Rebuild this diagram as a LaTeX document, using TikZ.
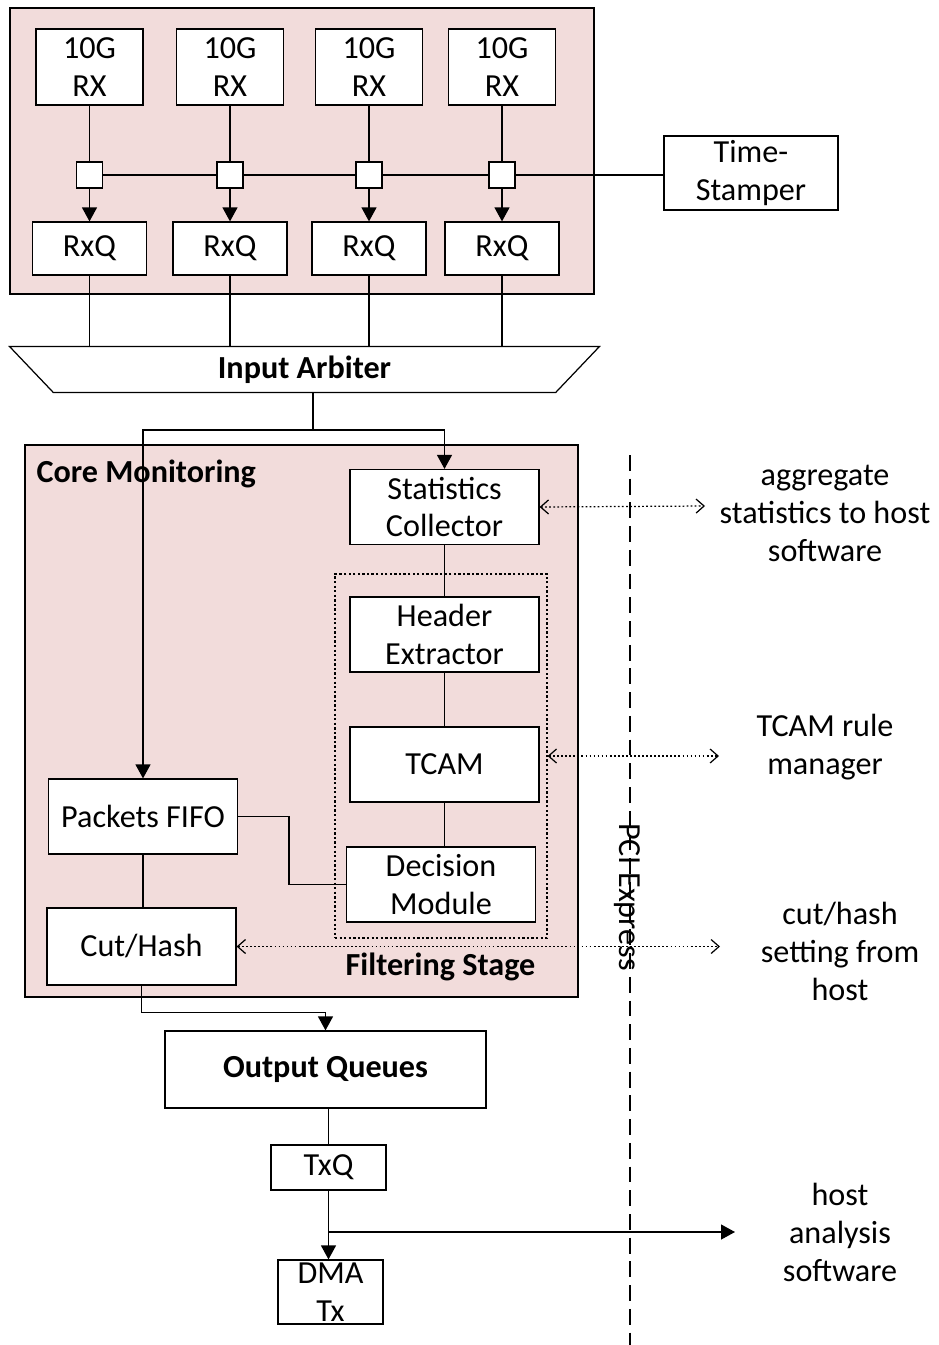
\documentclass[tikz,border=0pt]{standalone}
\usepackage{fontspec}
\setmainfont{Carlito}
\usepackage{tikz}
\usetikzlibrary{positioning,arrows.meta}
\usepackage{xcolor}
\definecolor{corepink}{RGB}{242,220,219}

\begin{document}
\begin{tikzpicture}[
    x=0.02cm,
    y=-0.02cm,
    font=\fontsize{18.3}{21.6}\selectfont,
    line width=0.7pt,
    box/.style={
        rectangle,
        draw,
        fill=white,
        inner sep=0pt,
        align=center
    },
    rxbox/.style={
        box,
        minimum width=2.14cm,
        minimum height=1.52cm
    },
    qbox/.style={
        box,
        minimum width=2.28cm,
        minimum height=1.06cm
    },
    unit/.style={
        box,
        minimum width=3.78cm,
        minimum height=1.5cm
    },
    tap/.style={
        rectangle,
        draw,
        fill=white,
        minimum size=0.52cm,
        inner sep=0pt
    },
    area/.style={
        rectangle,
        draw,
        fill=corepink,
        inner sep=0pt
    },
    note/.style={
        align=center,
        inner sep=0pt
    },
    arrow/.style={
        -{Triangle[length=0.28cm,width=0.3cm]}
    },
    hostlink/.style={
        {Straight Barb[length=0.16cm,width=0.28cm]}-{Straight Barb[length=0.16cm,width=0.28cm]},
        dash pattern=on 1pt off 1.3pt
    }
]

\useasboundingbox (0,0) rectangle (939,1345);

\node[area, minimum width=11.68cm, minimum height=5.72cm] (rxarea) at (302,151) {};
\node[area, minimum width=11.06cm, minimum height=11.04cm] (core) at (301.5,721) {};

\node[rxbox] (rx1) at (89.5,67) {10G\\RX};
\node[rxbox] (rx2) at (230,67) {10G\\RX};
\node[rxbox] (rx3) at (369,67) {10G\\RX};
\node[rxbox] (rx4) at (502,67) {10G\\RX};

\node[tap] (tap1) at (89.5,175) {};
\node[tap] (tap2) at (230,175) {};
\node[tap] (tap3) at (369,175) {};
\node[tap] (tap4) at (502,175) {};

\node[qbox] (rxq1) at (89.5,248.5) {RxQ};
\node[qbox] (rxq2) at (230,248.5) {RxQ};
\node[qbox] (rxq3) at (369,248.5) {RxQ};
\node[qbox] (rxq4) at (502,248.5) {RxQ};

\node[box, minimum width=3.48cm, minimum height=1.48cm] (stamper) at (751,173)
{Time-\\Stamper};

\node[minimum width=11.78cm, minimum height=0.9cm, inner sep=0pt] (arbiter) at (304.5,369.5)
{\textbf{Input Arbiter}};
\draw (arbiter.north west) -- (arbiter.north east)
    -- ([xshift=-0.88cm]arbiter.south east) -- ([xshift=0.88cm]arbiter.south west) -- cycle;

\draw (rx1) -- (tap1);
\draw (rx2) -- (tap2);
\draw (rx3) -- (tap3);
\draw (rx4) -- (tap4);
\draw[arrow] (tap1) -- (rxq1);
\draw[arrow] (tap2) -- (rxq2);
\draw[arrow] (tap3) -- (rxq3);
\draw[arrow] (tap4) -- (rxq4);
\draw (tap1) -- (tap2) -- (tap3) -- (tap4);
\draw (tap4) -- (tap4 -| stamper.west);
\draw (rxq1.south) -- (rxq1.south |- arbiter.north);
\draw (rxq2.south) -- (rxq2.south |- arbiter.north);
\draw (rxq3.south) -- (rxq3.south |- arbiter.north);
\draw (rxq4.south) -- (rxq4.south |- arbiter.north);

\node[anchor=west, inner sep=0pt] (corelabel) at (36,474)
{\textbf{Core Monitoring}};

\node[draw, dash pattern=on 1.3pt off 1.3pt, minimum width=4.24cm, minimum height=7.28cm, inner sep=0pt] (filter) at (441,756) {};
\node[inner sep=0pt] (filterlabel) at (440.5,967)
{\textbf{Filtering Stage}};

\node[unit] (stats) at (444.5,507)
{Statistics\\Collector};
\node[unit] (header) at (444.5,634.5)
{Header\\Extractor};
\node[unit] (tcam) at (444.5,764.5)
{TCAM};
\node[unit] (decision) at (441,884.5)
{Decision\\Module};

\node[unit] (pfifo) at (143,816.5)
{Packets FIFO};
\node[unit, minimum height=1.54cm] (cuthash) at (141.5,946.5)
{Cut/Hash};

\coordinate (split) at (313,430);
\draw (arbiter.south -| split) -- (split);
\draw[arrow] (split) -| (pfifo.north);
\draw[arrow] (split) -| (stats.north);

\draw (stats) -- (header);
\draw (header) -- (tcam);
\draw (tcam.south) -- (tcam.south |- decision.north);
\draw (pfifo) -- (pfifo |- cuthash.north);
\draw (pfifo.east) -- ++(51,0) |- (decision.west);

\node[box, minimum width=6.42cm, minimum height=1.54cm] (oq) at (325.5,1069.5)
{\textbf{Output Queues}};
\node[box, minimum width=2.3cm, minimum height=0.9cm] (txq) at (328.5,1167.5)
{TxQ};
\node[box, minimum width=2.1cm, minimum height=1.28cm] (dma) at (330.5,1292)
{DMA\\Tx};

\draw[arrow] (cuthash.south) -- ++(0,27) -| (oq.north);
\draw (oq.south -| txq.north) -- (txq.north);
\draw[arrow] (txq.south) -- (txq.south |- dma.north);

\coordinate (pcitop) at (630,455);
\coordinate (pcibot) at (630,1345);
\draw[dash pattern=on 9pt off 4.5pt] (pcitop) -- (pcibot);
\node[rotate=-90, inner sep=0pt] (pci) at (627,897) {PCI Express};

\coordinate (aggend) at (705,506);
\coordinate (ruleend) at (719,756);
\coordinate (hashend) at (720,946.5);
\coordinate (hostend) at (735,1232);

\draw[hostlink] (stats.east) -- (aggend);
\draw[hostlink] (filter.east) -- (ruleend);
\draw[hostlink] (cuthash.east) -- (hashend);
\draw[arrow] (txq.south |- hostend) -- (hostend);

\node[note] (aggnote) at (825,513)
{aggregate\\statistics to host\\software};
\node[note] (rulenote) at (825,747.5)
{TCAM rule\\manager};
\node[note] (hashnote) at (840,951)
{cut/hash\\setting from\\host};
\node[note] (hostnote) at (840,1232)
{host\\analysis\\software};

\end{tikzpicture}
\end{document}
